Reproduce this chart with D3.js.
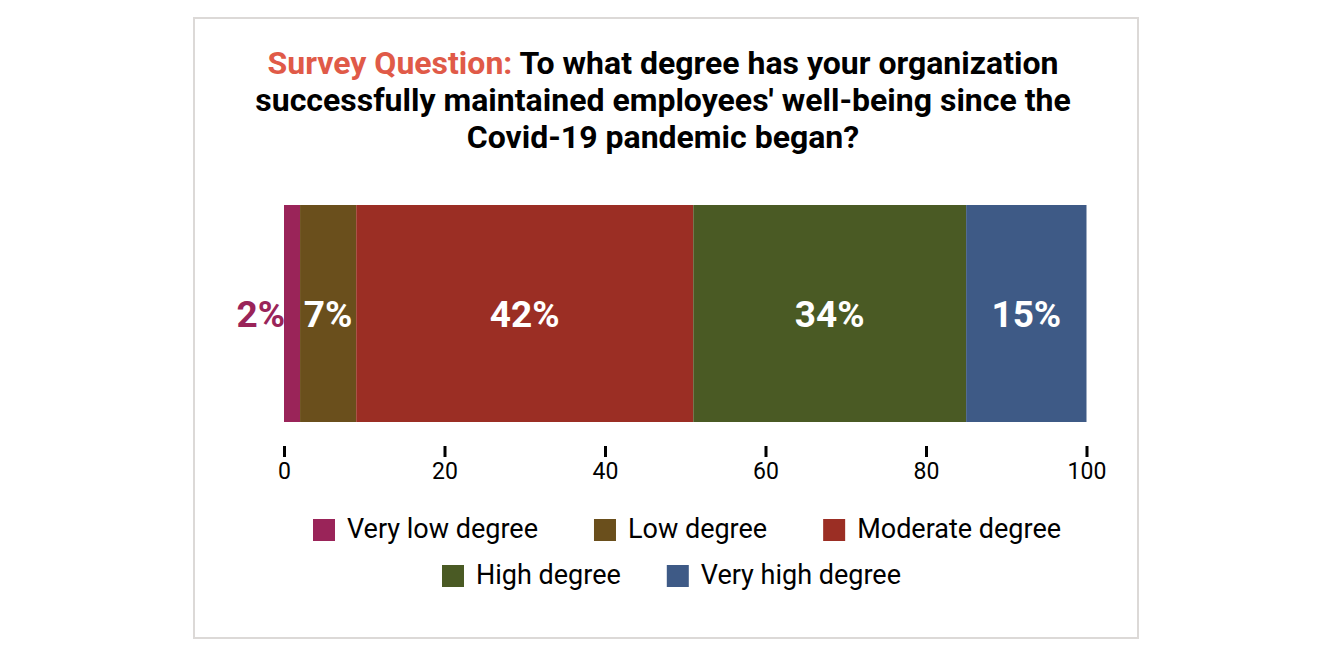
<!DOCTYPE html>
<html>
<head>
<meta charset="utf-8">
<script src="https://cdn.jsdelivr.net/npm/d3@7"></script>
<style>
  body { margin: 0; background: #fff; font-family: Roboto, sans-serif; }
</style>
</head>
<body>
<script>
// data
const categories = ["Very low degree", "Low degree", "Moderate degree", "High degree", "Very high degree"];
const values = [2, 7, 42, 34, 15];
const colors = ["#9a2459", "#6a4f1c", "#9b2e24", "#4a5a24", "#3e5a86"];
const ticks = [0, 20, 40, 60, 80, 100];
const legendRows = [[0, 1, 2], [3, 4]];

const W = 1322, H = 670;
const svg = d3.select("body").append("svg").attr("width", W).attr("height", H);

// frame
svg.append("rect")
  .attr("x", 194).attr("y", 18).attr("width", 944).attr("height", 620)
  .attr("fill", "#fff").attr("stroke", "#dcd9d7").attr("stroke-width", 2);

// title
const title = svg.append("text")
  .attr("text-anchor", "middle")
  .attr("font-weight", 700).attr("font-size", 32).attr("fill", "#000");
const tLines = [
  ["Survey Question: ", "To what degree has your organization"],
  [null, "successfully maintained employees' well-being since the"],
  [null, "Covid-19 pandemic began?"]
];
tLines.forEach((l, i) => {
  const t = title.append("tspan").attr("x", 663).attr("y", 74 + i * 37);
  if (l[0]) { t.text(l[0]).attr("fill", "#e05a48"); title.append("tspan").text(l[1]); }
  else t.text(l[1]);
});

// scales
const x = d3.scaleLinear().domain([0, 100]).range([284, 1086.5]);
const barY = 205, barH = 217;

let cum = 0;
const segs = values.map((v, i) => { const s = { v, i, x0: cum }; cum += v; return s; });

svg.selectAll("rect.seg").data(segs).enter().append("rect")
  .attr("class", "seg")
  .attr("x", d => x(d.x0)).attr("y", barY)
  .attr("width", d => x(d.x0 + d.v) - x(d.x0)).attr("height", barH)
  .attr("fill", d => colors[d.i]);

svg.selectAll("text.lbl").data(segs).enter().append("text")
  .attr("class", "lbl")
  .attr("x", d => d.v < 4 ? x(d.x0) + 1 : x(d.x0 + d.v / 2))
  .attr("y", barY + barH / 2 + 13)
  .attr("text-anchor", d => d.v < 4 ? "end" : "middle")
  .attr("font-size", 37).attr("font-weight", 700)
  .attr("fill", d => d.v < 4 ? colors[d.i] : "#fff")
  .text(d => d.v + "%");

// axis
const axis = svg.append("g").attr("transform", "translate(0,446)")
  .call(d3.axisBottom(x).tickValues(ticks).tickSize(11).tickPadding(6));
axis.select(".domain").remove();
axis.selectAll(".tick line").attr("stroke", "#000").attr("stroke-width", 3);
axis.selectAll(".tick text").attr("font-size", 23).attr("font-family", "Roboto, sans-serif").attr("fill", "#000");

// legend
const sw = 22, gapText = 12;
const rowStart = [313, 442], rowGap = [56, 46];
legendRows.forEach((row, r) => {
  const g = svg.append("g").attr("transform", `translate(${rowStart[r]},${538 + r * 46})`);
  let cx = 0;
  row.forEach(i => {
    const it = g.append("g").attr("transform", `translate(${cx},0)`);
    it.append("rect").attr("x", 0).attr("y", -sw + 3).attr("width", sw).attr("height", sw).attr("fill", colors[i]);
    const t = it.append("text").attr("x", sw + gapText).attr("y", 0)
      .attr("font-size", 27).attr("fill", "#000").text(categories[i]);
    cx += sw + gapText + t.node().getComputedTextLength() + rowGap[r];
  });
});
</script>
</body>
</html>
